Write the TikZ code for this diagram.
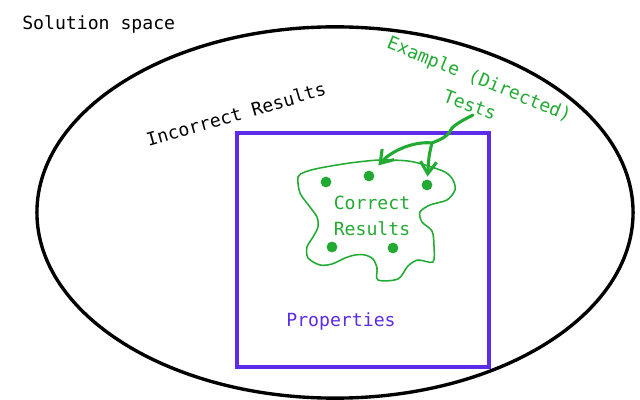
\documentclass[tikz,border=0pt]{standalone}
\usepackage{fontspec}
\setmonofont{DejaVu Sans Mono}
\usetikzlibrary{arrows.meta}
\definecolor{sketchgreen}{RGB}{34,170,51}
\definecolor{propviolet}{RGB}{92,44,232}

\begin{document}
\begin{tikzpicture}[x=0.025cm, y=-0.025cm,
	lbl/.style={font=\ttfamily\fontsize{12.9}{15}\selectfont, inner sep=0pt},
	hit/.style={circle, fill=sketchgreen, inner sep=0pt, minimum size=0.27cm},
	pen/.style={draw=sketchgreen, line width=2.2pt, line cap=round, line join=round},
	tip/.style={-{Straight Barb[length=3mm, width=4mm]}}]
	\useasboundingbox (0,0) rectangle (640,400);
	% solution space and the property box
	\draw[line width=2.4pt] (335,212.5) ellipse [x radius=7.45cm, y radius=4.64cm];
	\draw[propviolet, line width=2.3pt] (237,133) rectangle (489,367);
	% correct results
	\draw[sketchgreen, line width=1.1pt] plot[smooth cycle, tension=0.5] coordinates {
		(298,177) (300,193) (310,207) (317,217) (318,227) (313,237) (307,247)
		(308,258) (320,265) (332,264) (345,258) (355,255) (365,255) (373,259)
		(377,268) (378,280) (398,279) (408,266) (418,260) (433,262) (434,246)
		(432,231) (422,222) (420,212) (430,205) (447,200) (455,190) (453,180)
		(445,172) (425,165) (408,161) (380,160) (350,163) (320,168) (305,172)};
	\node (d1) [hit] at (326,182) {};
	\node (d2) [hit] at (369,176) {};
	\node (d3) [hit] at (427,185) {};
	\node (d4) [hit] at (332,247) {};
	\node (d5) [hit] at (393,248) {};
	% labels
	\node (Sol) [lbl, anchor=west] at (22,24) {Solution space};
	\node (Inc) [lbl, rotate=16] at (236,114) {Incorrect Results};
	\node (Ex) [lbl, text=sketchgreen, rotate=-22] at (479,80) {Example (Directed)};
	\node (T) [lbl, text=sketchgreen, rotate=-20] at (470,105) {Tests};
	\node (C) [lbl, text=sketchgreen, align=center] at (372,216) {Correct\\[3pt]Results};
	\node (Pr) [lbl, text=propviolet] at (341,321) {Properties};
	% arrows from the tests
	\coordinate (stem) at (473,115);
	\coordinate (fork) at (432,143);
	\draw[pen] plot[smooth, tension=0.6] coordinates {(stem) (460,122) (452,128) (449,133) (443,138) (fork)};
	\draw[pen, tip, shorten >=6pt] (fork) .. controls (415,141) and (392,150) .. (d2);
	\draw[pen, tip, shorten >=2pt] (fork) .. controls (429,155) .. (d3);
\end{tikzpicture}
\end{document}
